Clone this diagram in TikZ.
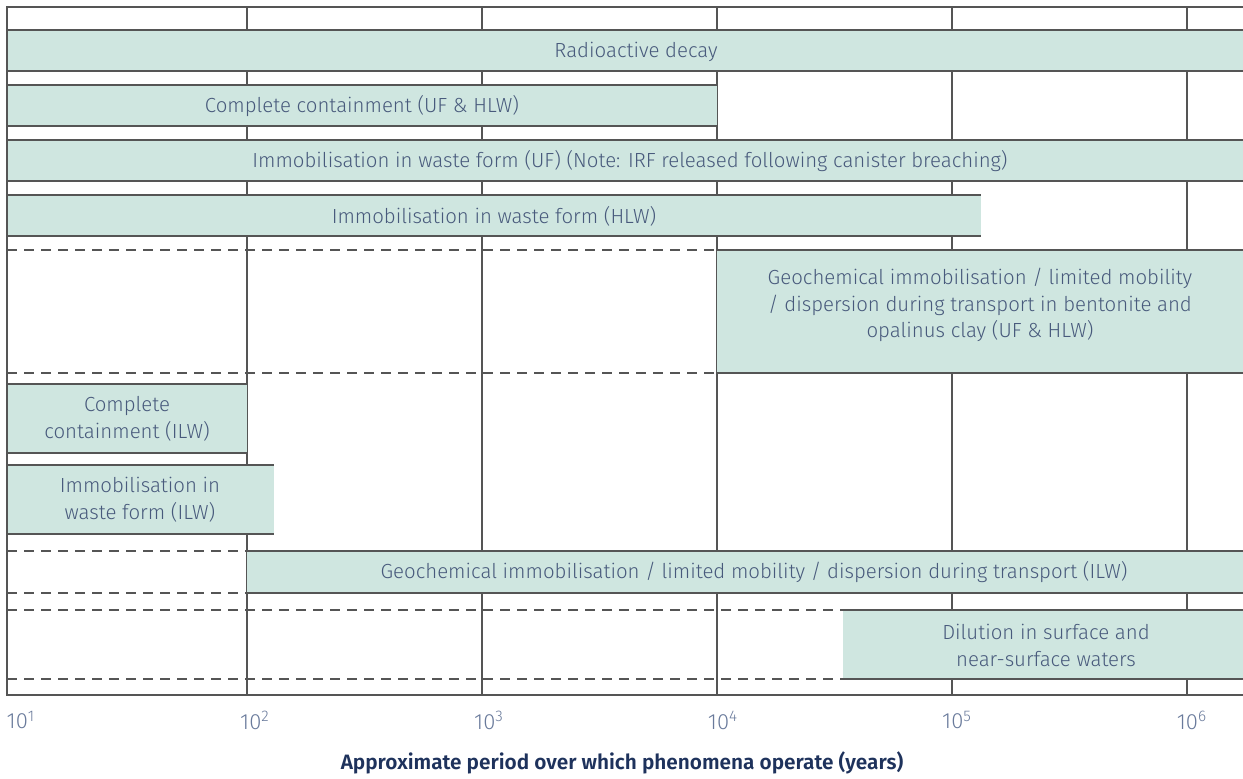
\documentclass[tikz,border=0pt]{standalone}
\usepackage{fontspec}
\setmainfont{Fira Sans}[UprightFont=* Light, BoldFont=* SemiBold]
\usepackage{xcolor}
\usepackage{tikz}
\definecolor{barfill}{RGB}{207,230,224}
\definecolor{gridgray}{RGB}{85,85,85}
\definecolor{labelblue}{RGB}{72,90,124}
\definecolor{ticklabel}{RGB}{105,122,155}
\definecolor{titlenavy}{RGB}{30,50,92}

% bar: name, x1, y1, x2, y2, label x, label y, text
\newcommand{\phase}[8]{%
    \fill[barfill] (#2,#3) rectangle (#4,#5);
    \draw[gridline] (#2,#3) -- (#4,#3) (#2,#5) -- (#4,#5);
    \node[phasetext] (#1) at (#6,#7) {#8};}

\begin{document}
\begin{tikzpicture}[x=0.5pt, y=-0.5pt,
    gridline/.style={draw=gridgray, line width=0.8pt},
    dashline/.style={gridline, dash pattern=on 5pt off 3.5pt},
    phasetext/.style={text=labelblue, align=center, inner sep=0pt,
        font=\fontsize{10.2}{13.3}\selectfont},
    tick/.style={text=ticklabel, inner sep=0pt, font=\fontsize{11}{13}\selectfont}]
    \useasboundingbox (0,0) rectangle (1243,778);

    % grid
    \foreach \x in {247,482,717,952,1187}
        \draw[gridline] (\x,7) -- (\x,695);

    % phenomena
    \phase{decay}{7}{30}{1243}{71}{636}{51.5}{Radioactive decay}
    \phase{ccuf}{7}{85}{717}{126}{362}{106}{Complete containment (UF \& HLW)}
    \phase{iwuf}{7}{140}{1243}{181}{630}{161}{Immobilisation in waste form (UF) (Note: IRF released following canister breaching)}
    \phase{iwhlw}{7}{195}{981}{236}{494}{216}{Immobilisation in waste form (HLW)}
    \phase{geouf}{717}{250}{1243}{373}{980}{305}{Geochemical immobilisation / limited mobility\\/ dispersion during transport in bentonite and\\opalinus clay (UF \& HLW)}
    \phase{ccilw}{7}{384}{247}{453}{127}{419}{Complete\\containment (ILW)}
    \phase{iwilw}{7}{465}{274}{534}{140}{500}{Immobilisation in\\waste form (ILW)}
    \phase{geoilw}{247}{551}{1243}{593}{754}{572.5}{Geochemical immobilisation / limited mobility / dispersion during transport (ILW)}
    \phase{dilution}{843}{610}{1243}{679}{1046}{645.5}{Dilution in surface and\\near-surface waters}

    % dashed rows
    \draw[dashline] (7,250) -- (717,250) (7,373) -- (717,373);
    \draw[dashline] (7,551) -- (247,551) (7,593) -- (247,593);
    \draw[dashline] (7,610) -- (843,610) (7,679) -- (843,679);

    % frame
    \draw[gridline] (1243,7) -- (7,7) -- (7,695) -- (1243,695);

    % axis
    \foreach \x/\e in {21/1,255/2,489/3,723/4,957/5,1192/6}
        \node[tick] (exp\e) at (\x,720) {10\textsuperscript{\e}};
    \node[text=titlenavy, font=\fontsize{10.4}{12}\bfseries\selectfont] (axistitle) at (622,763)
        {Approximate period over which phenomena operate (years)};
\end{tikzpicture}
\end{document}
